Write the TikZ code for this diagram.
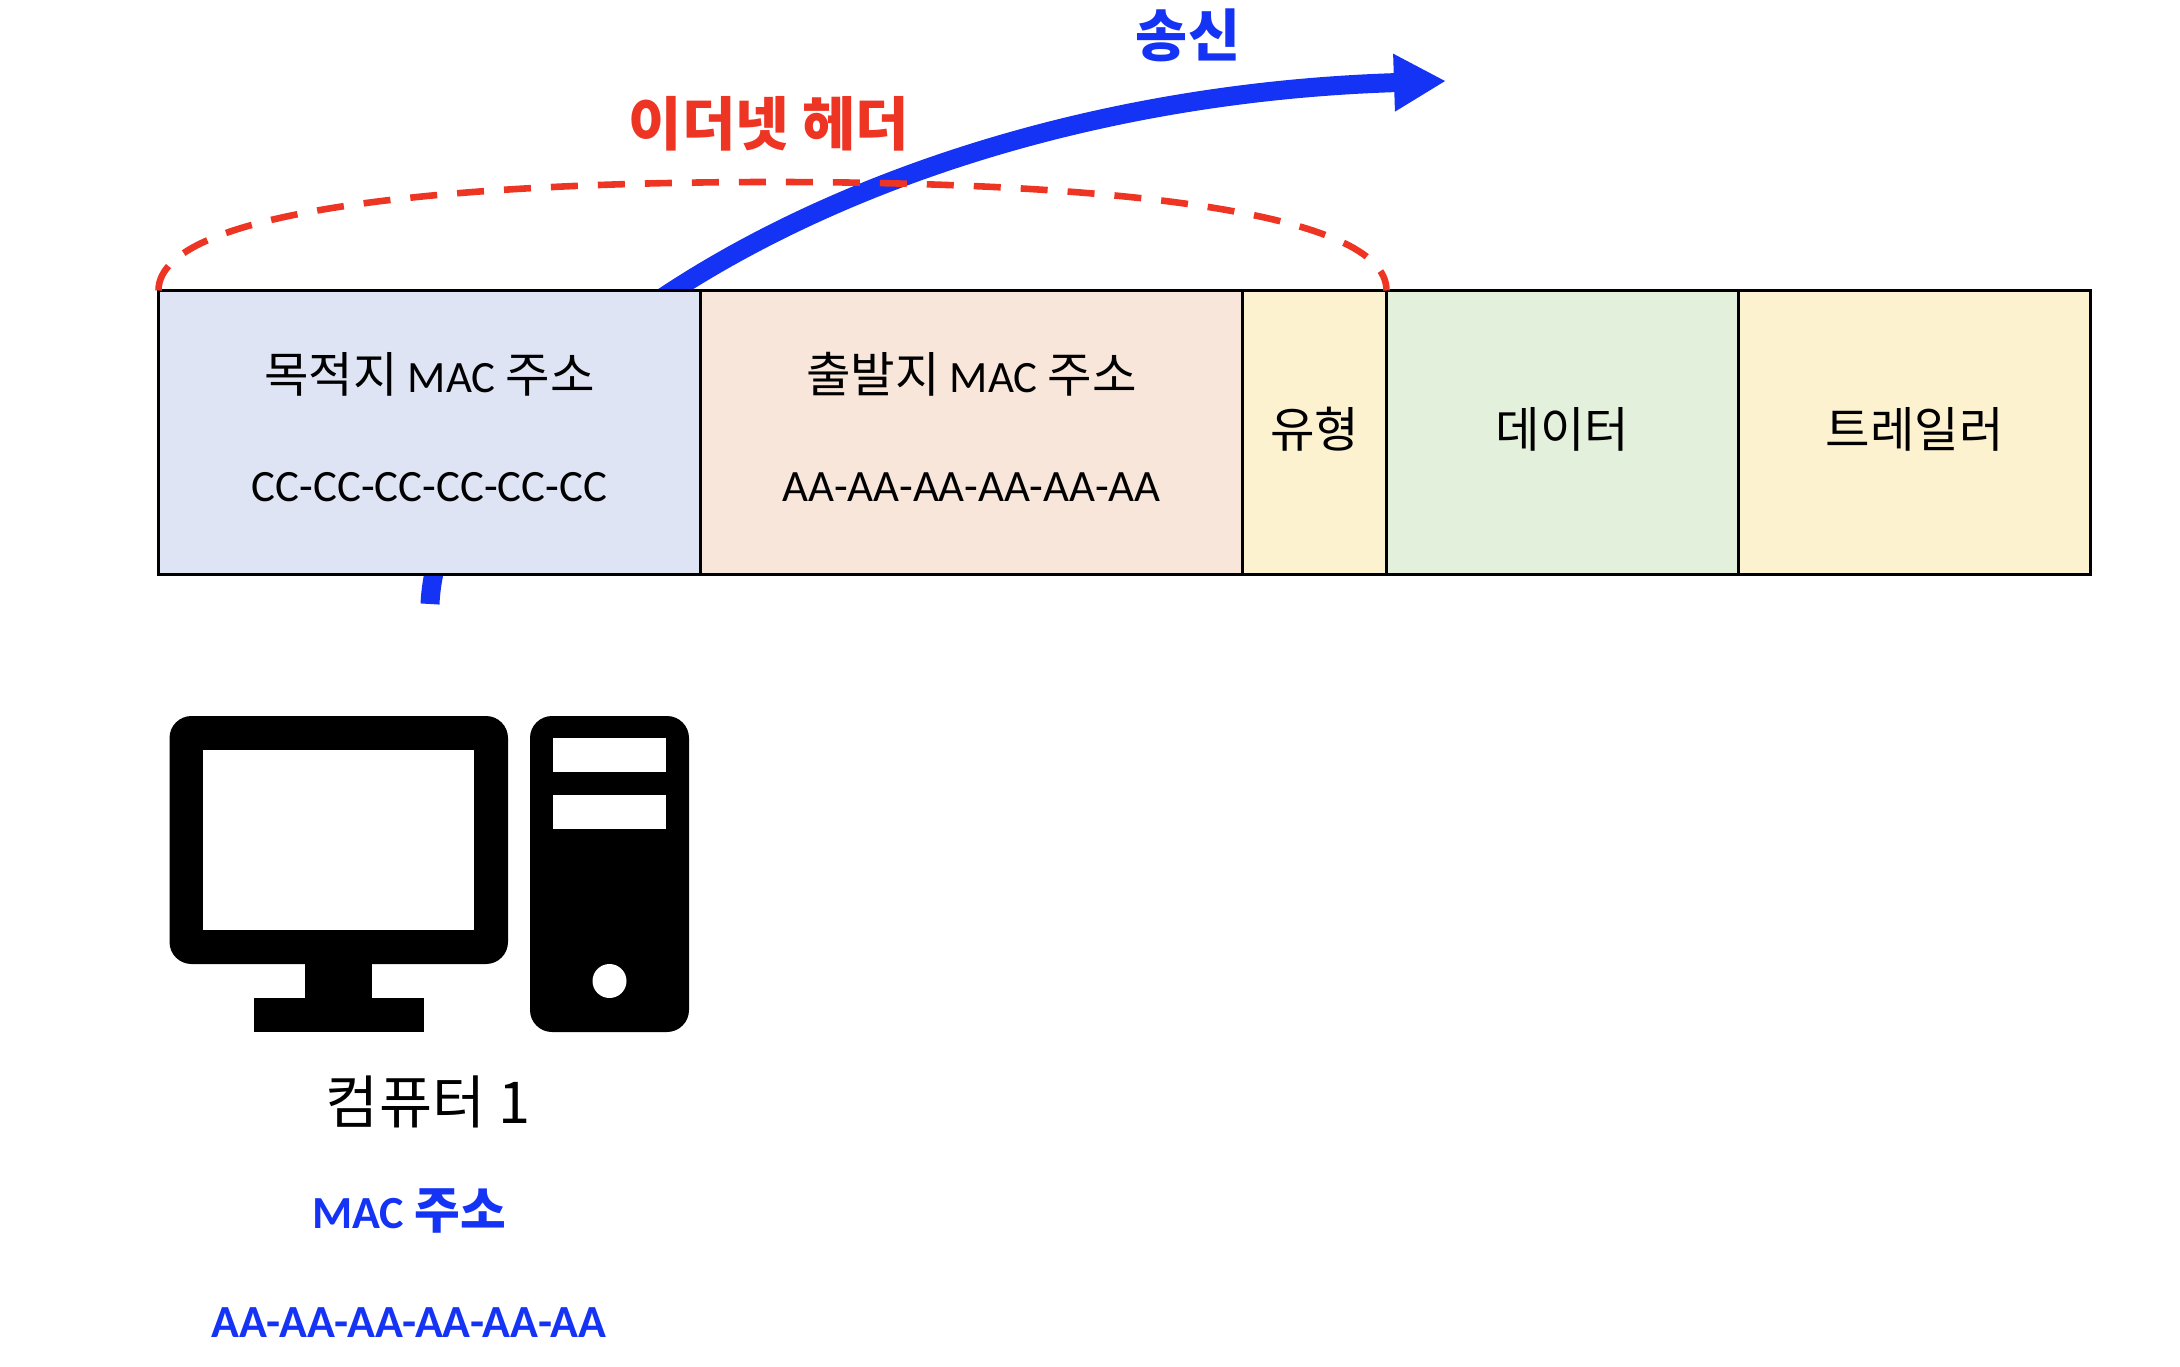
\documentclass[tikz,border=0pt]{standalone}
\usepackage{fontspec}
\usepackage{xcolor}
\usepackage{tikz}
\usetikzlibrary{arrows.meta}
\usetikzlibrary{positioning}
\setmainfont{Carlito}
\newfontfamily\kr[Scale=1.08]{Noto Sans CJK KR}
\definecolor{cellColorB}{HTML}{DEE4F3}
\definecolor{cellColorO}{HTML}{F7E6D9}
\definecolor{cellColorY}{HTML}{FDF2D0}
\definecolor{cellColorG}{HTML}{E3F0DB}
\definecolor{sendBlue}{HTML}{1433F5}
\definecolor{headerRed}{HTML}{EE3524}
\tikzset{
    cell/.style = {draw, line width=1.5pt, fill=#1, inner sep=0pt, outer sep=0pt, minimum height=141.75pt, align=center, text depth=5pt, font=\fontsize{22.4}{54.6}\selectfont},
    cellB/.style = {cell=cellColorB},
    cellO/.style = {cell=cellColorO},
    cellY/.style = {cell=cellColorY},
    cellG/.style = {cell=cellColorG},
    sendArrow/.style = {line width=9.5pt, draw=sendBlue, -{Triangle[length=26pt,width=27pt,fill=sendBlue]}},
    headerCurve/.style = {line width=3.3pt, draw=headerRed, dash pattern=on 13.5pt off 10pt}
}
\begin{document}
\begin{tikzpicture}[x=0.5pt,y=-0.5pt]
    \useasboundingbox (0,0) rectangle (2180,1366);

    \coordinate (SendStart) at (430,604);
    \coordinate (SendEnd) at (1446,81);
    \draw[sendArrow] (SendStart) .. controls (440,385) and (845,100) .. (SendEnd);

    \node[cellB, minimum width=271pt, anchor=north west] (Dst) at (158.5,290.5) {{\kr 목적지} MAC {\kr 주소}\\CC-CC-CC-CC-CC-CC};
    \node[cellO, minimum width=271pt, right=0pt of Dst] (Src) {{\kr 출발지} MAC {\kr 주소}\\AA-AA-AA-AA-AA-AA};
    \node[cellY, minimum width=72pt, right=0pt of Src] (Type) {\kr 유형};
    \node[cellG, minimum width=176pt, right=0pt of Type] (Data) {\kr 데이터};
    \node[cellY, minimum width=176pt, right=0pt of Data] (Trailer) {\kr 트레일러};

    \draw[headerCurve] (Dst.north west) .. controls (158.5,210) and (450,182) .. (772,182)
        .. controls (1100,182) and (1386.5,210) .. (Type.north east);

    \node[text=headerRed, font=\fontsize{26.9}{34}\selectfont\kr\bfseries] (HeaderLabel) at (769,124) {이더넷 헤더};
    \node[text=sendBlue, font=\fontsize{26.2}{34}\selectfont\kr\bfseries] (SendLabel) at (1188,35) {송신};

    % computer
    \fill[rounded corners=11pt] (169.5,716) rectangle (508,964);
    \fill[white] (203,749.5) rectangle (474,930);
    \fill (305,960) rectangle (372,1000);
    \fill (254,998) rectangle (423.5,1032);
    \fill[rounded corners=11pt] (530,716) rectangle (689,1032);
    \fill[white] (553,738) rectangle (666,772);
    \fill[white] (553,795) rectangle (666,829);
    \fill[white] (609.5,981) circle (8.5pt);

    \node[font=\fontsize{26.7}{34}\selectfont\kr] (PcLabel) at (428,1102) {컴퓨터 1};
    \node[text=sendBlue, align=center, font=\fontsize{23}{54.6}\selectfont\bfseries] (MacLabel) at (409,1263) {MAC {\kr\bfseries 주소}\\AA-AA-AA-AA-AA-AA};
\end{tikzpicture}
\end{document}
